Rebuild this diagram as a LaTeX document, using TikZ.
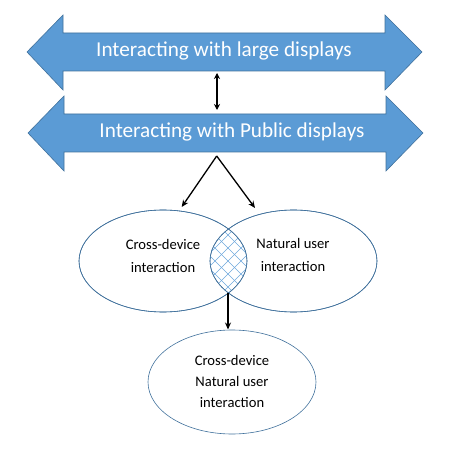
\documentclass[tikz,border=0pt]{standalone}
\usepackage{fontspec}
\setmainfont{Carlito}
\usetikzlibrary{arrows.meta,shapes.geometric}
\definecolor{arrfill}{HTML}{5B9BD5}
\definecolor{arrdraw}{HTML}{41719C}
\definecolor{hatch}{HTML}{6FA8DC}
\tikzset{
  bigarrow/.style={fill=arrfill,draw=arrdraw,line width=0.6pt,line join=miter},
  bigtext/.style={text=white,font=\fontsize{21.2}{24}\selectfont,inner sep=0pt},
  ell/.style={ellipse,draw=arrdraw,line width=0.6pt,inner sep=0pt},
  elltext/.style={align=center,inner sep=0pt},
  conn/.style={-{Stealth[length=7pt,width=6pt]},line width=1.3pt,black},
}
\begin{document}
\begin{tikzpicture}[x=1pt,y=-1pt]
\useasboundingbox (0,0) rectangle (466,449);
% top arrow
\path[bigarrow] (27,52) -- (63,15) -- (63,33) -- (385,33) -- (385,15) -- (422,52) -- (385,90) -- (385,71) -- (63,71) -- (63,90) -- cycle;
\node[bigtext] (large) at (224,51) {Interacting with large displays};
% second arrow
\path[bigarrow] (28,133) -- (64,96) -- (64,114) -- (386,114) -- (386,96) -- (423,133) -- (386,171) -- (386,152) -- (64,152) -- (64,171) -- cycle;
\node[bigtext] (public) at (232,132) {Interacting with Public displays};
\coordinate (a1) at (217,73);
\coordinate (a2) at (217,110);
\draw[{Stealth[length=6pt,width=6pt]}-{Stealth[length=6pt,width=6pt]},line width=1.3pt] (a1) -- (a2);
% ellipses
\node[ell,minimum width=168pt,minimum height=102pt] (cd) at (163,261) {};
\node[ell,minimum width=167pt,minimum height=102pt] (nui) at (293.5,261) {};
\node[elltext,font=\fontsize{14.6}{23}\selectfont] (cdt) at (163,255.5) {Cross-device\\interaction};
\node[elltext,font=\fontsize{14.6}{23}\selectfont] (nuit) at (293,254.5) {Natural user\\interaction};
% hatch
\begin{scope}
\clip (163,261) ellipse [x radius=84pt,y radius=51pt];
\clip (293.5,261) ellipse [x radius=83.5pt,y radius=51pt];
\foreach \k in {-8,...,8}{
  \draw[hatch,line width=0.6pt] (228+\k*13-60,261-60) -- (228+\k*13+60,261+60);
  \draw[hatch,line width=0.6pt] (228+\k*13+60,261-60) -- (228+\k*13-60,261+60);
}
\end{scope}
\draw[arrdraw,line width=0.6pt] (163,261) ellipse [x radius=84pt,y radius=51pt];
\draw[arrdraw,line width=0.6pt] (293.5,261) ellipse [x radius=83.5pt,y radius=51pt];
% apex arrows
\coordinate (apex) at (216.7,156);
\coordinate (lend) at (181.7,207);
\coordinate (rend) at (255,208);
\draw[conn] (apex) -- (lend);
\draw[conn] (apex) -- (rend);
% bottom
\node[ell,minimum width=168pt,minimum height=104pt] (both) at (232,382) {};
\node[elltext,font=\fontsize{14.6}{21}\selectfont] (botht) at (232,381) {Cross-device\\Natural user\\interaction};
\coordinate (lens) at (228,293);
\draw[conn] (lens) -- (228,329.5);
\end{tikzpicture}
\end{document}
